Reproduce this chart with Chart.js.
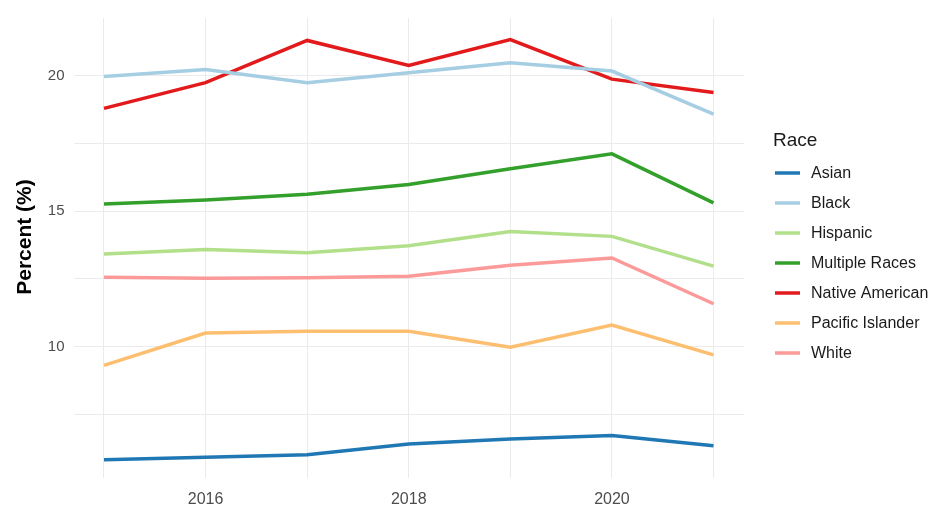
<!DOCTYPE html>
<html>
<head>
<meta charset="utf-8">
<script src="https://cdn.jsdelivr.net/npm/chart.js@4"></script>
<style>
  html, body { margin: 0; padding: 0; background: #ffffff; }
  #wrap { width: 947px; height: 506px; }
</style>
</head>
<body>
<div id="wrap"><canvas id="raceChart"></canvas></div>
<script>
const years = [2015, 2016, 2017, 2018, 2019, 2020, 2021];
const races = ["Asian", "Black", "Hispanic", "Multiple Races", "Native American", "Pacific Islander", "White"];

const asian = [5.81, 5.91, 6.0, 6.40, 6.58, 6.71, 6.33];
const black = [19.98, 20.24, 19.75, 20.12, 20.49, 20.18, 18.59];
const hispanic = [13.42, 13.58, 13.46, 13.72, 14.25, 14.07, 12.97];
const multipleRaces = [15.27, 15.41, 15.63, 15.99, 16.57, 17.12, 15.31];
const nativeAmerican = [18.8, 19.75, 21.31, 20.39, 21.34, 19.88, 19.39];
const pacificIslander = [9.30, 10.50, 10.56, 10.56, 9.97, 10.79, 9.69];
const white = [12.56, 12.52, 12.54, 12.60, 13.0, 13.27, 11.58];

const yTicks = [7.5, 10, 12.5, 15, 17.5, 20];
const yLabels = [10, 15, 20];
const xLabels = [2016, 2018, 2020];

const seriesValues = [asian, black, hispanic, multipleRaces, nativeAmerican, pacificIslander, white];
const colors = ["#1F78B4", "#A6CEE3", "#B2DF8A", "#33A02C", "#E31A1C", "#FDBF6F", "#FB9A99"];

const FONT = "'Liberation Sans', Arial, sans-serif";

// legend and y title drawn by hand, ggplot style
const legendPlugin = {
    id: "raceLegend",
    afterDraw(chart) {
        const ctx = chart.ctx;
        ctx.save();
        ctx.fillStyle = "#1a1a1a";
        ctx.textBaseline = "middle";
        ctx.textAlign = "left";
        ctx.font = `19px ${FONT}`;
        ctx.fillText("Race", 773, 141);
        ctx.font = `16px ${FONT}`;
        chart.data.datasets.forEach((ds, i) => {
            const y = 173 + i * 30;
            ctx.strokeStyle = ds.borderColor;
            ctx.lineWidth = 3.5;
            ctx.beginPath();
            ctx.moveTo(775, y);
            ctx.lineTo(800, y);
            ctx.stroke();
            ctx.fillStyle = "#1a1a1a";
            ctx.fillText(ds.label, 811, y + 1);
        });

        ctx.translate(25, 237);
        ctx.rotate(-Math.PI / 2);
        ctx.textAlign = "center";
        ctx.fillStyle = "#000000";
        ctx.font = `bold 21px ${FONT}`;
        ctx.fillText("Percent (%)", 0, 0);
        ctx.restore();
    },
};

new Chart(document.getElementById("raceChart"), {
    type: "line",
    data: {
        datasets: races.map((race, i) => ({
            label: race,
            data: years.map((year, j) => ({ x: year, y: seriesValues[i][j] })),
            borderColor: colors[i],
            backgroundColor: colors[i],
            borderWidth: 3.5,
            pointRadius: 0,
            tension: 0,
            fill: false,
        })),
    },
    options: {
        responsive: true,
        maintainAspectRatio: false,
        animation: false,
        layout: {
            padding: { top: 15, right: 203, left: 0, bottom: 0 },
        },
        plugins: {
            legend: { display: false },
            tooltip: { enabled: false },
        },
        scales: {
            x: {
                type: "linear",
                min: 2014.7,
                max: 2021.3,
                border: { display: false },
                grid: { color: "#ebebeb", lineWidth: 1, drawTicks: false },
                afterBuildTicks: (scale) => {
                    scale.ticks = years.map((value) => ({ value }));
                },
                afterFit: (scale) => { scale.height = 28; },
                ticks: {
                    color: "#4d4d4d",
                    font: { family: FONT, size: 16 },
                    padding: 12,
                    maxRotation: 0,
                    autoSkip: false,
                    callback: (value) => (xLabels.includes(value) ? String(value) : ""),
                },
            },
            y: {
                min: 5.14,
                max: 22.14,
                border: { display: false },
                grid: { color: "#ebebeb", lineWidth: 1, drawTicks: false },
                afterBuildTicks: (scale) => {
                    scale.ticks = yTicks.map((value) => ({ value }));
                },
                afterFit: (scale) => { scale.width = 73.5; },
                ticks: {
                    color: "#4d4d4d",
                    font: { family: FONT, size: 15 },
                    padding: 9,
                    autoSkip: false,
                    callback: (value) => (yLabels.includes(value) ? String(value) : ""),
                },
            },
        },
    },
    plugins: [legendPlugin],
});
</script>
</body>
</html>
